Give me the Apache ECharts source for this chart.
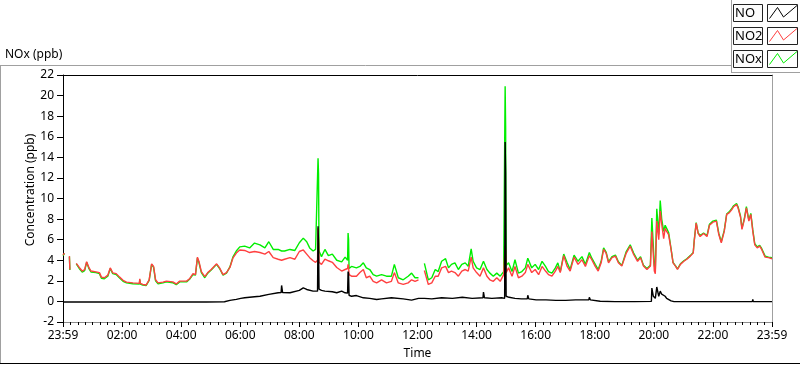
<!DOCTYPE html>
<html>
<head>
<meta charset="utf-8">
<script src="https://cdn.jsdelivr.net/npm/echarts@6/dist/echarts.min.js"></script>
<style>
html,body{margin:0;padding:0;background:#fff;}
#chart{width:800px;height:365px;}
</style>
</head>
<body>
<div id="chart"></div>
<script>
// Time in minutes from midnight (-1 = 23:59 of previous day, 1439 = 23:59)
const times = [
  -1, 2, 3, 12, 13, 14, 26, 32, 38, 43,
  47, 52, 56, 66, 73, 77, 83, 90, 95, 100,
  107, 114, 121, 128, 141, 154, 155, 156, 161, 168,
  174, 179, 183, 187, 192, 202, 209, 222, 229, 236,
  250, 256, 263, 268, 272, 275, 280, 287, 290, 293,
  300, 311, 317, 324, 331, 338, 344, 351, 358, 368,
  378, 388, 399, 409, 417, 426, 436, 443, 449, 460,
  470, 479, 487, 494, 500, 507, 512, 516, 517, 518,
  519, 524, 531, 538, 546, 555, 565, 572, 577, 578,
  579, 580, 585, 595, 602, 609, 615, 622, 629, 636,
  646, 656, 666, 672, 680, 690, 700, 707, 714, 721,
  726, 733, 741, 748, 755, 761, 768, 776, 782, 788,
  795, 802, 809, 816, 822, 828, 832, 839, 846, 853,
  860, 866, 873, 880, 887, 894, 896, 897, 898, 899,
  904, 911, 917, 924, 931, 938, 943, 951, 958, 965,
  972, 979, 985, 992, 999, 1004, 1009, 1016, 1023, 1029,
  1037, 1045, 1053, 1060, 1068, 1073, 1080, 1086, 1092, 1097,
  1102, 1107, 1114, 1121, 1127, 1134, 1143, 1151, 1158, 1166,
  1172, 1178, 1185, 1192, 1195, 1200, 1202, 1205, 1209, 1212,
  1215, 1219, 1222, 1225, 1229, 1234, 1238, 1243, 1247, 1253,
  1260, 1266, 1273, 1279, 1281, 1285, 1289, 1293, 1300, 1307,
  1312, 1319, 1326, 1331, 1336, 1342, 1347, 1352, 1357, 1361,
  1367, 1370, 1375, 1378, 1383, 1387, 1392, 1396, 1400, 1404,
  1409, 1414, 1418, 1425, 1432, 1439
];
const no2 = [
  4.5, 4.7, null, 4.4, 3.1, null, 3.7, 3.3, 2.95, 3.1,
  3.85, 3.25, 2.95, 2.87, 2.8, 2.36, 2.3, 2.55, 3.26, 2.78,
  2.7, 2.36, 2.05, 1.87, 1.8, 1.75, 2.2, 1.75, 1.65, 1.6,
  2.1, 3.65, 3.4, 2.1, 1.8, 1.87, 1.97, 1.9, 1.7, 1.97,
  1.97, 2.2, 2.7, 2.6, 4.3, 3.9, 2.9, 2.4, 2.3, 2.8,
  3.1, 3.65, 3.26, 2.6, 2.8, 3.3, 4.2, 4.7, 5.0, 4.95,
  4.75, 4.85, 4.75, 4.6, 4.85, 4.25, 4.1, 4.0, 4.1, 4.25,
  4.1, 4.85, 5.0, 4.6, 4.25, 3.95, 3.8, 4.0, 7.1, 6.0,
  3.8, 3.6, 4.1, 3.95, 3.8, 3.3, 2.95, 3.1, 3.2, 3.6,
  3.4, 2.6, 2.45, 2.45, 2.8, 3.1, 2.3, 2.45, 1.95, 1.8,
  2.1, 1.8, 1.95, 2.8, 1.8, 1.65, 1.8, 2.1, 1.95, 2.1,
  null, 3.0, 1.65, 1.8, 2.45, 2.45, 3.26, 3.4, 2.8, 2.95,
  2.8, 2.45, 2.95, 3.1, 2.95, 4.3, 3.26, 2.8, 2.45, 3.26,
  2.45, 2.1, 1.95, 2.3, 1.95, 2.6, 2.5, 5.4, 5.0, 2.8,
  3.26, 2.45, 3.4, 2.3, 2.45, 2.8, 3.6, 2.8, 3.1, 2.6,
  3.4, 2.95, 2.6, 2.45, 2.95, 3.4, 2.8, 4.45, 3.4, 2.95,
  4.3, 3.6, 4.05, 3.4, 4.45, 4.05, 3.4, 2.95, 3.75, 5.05,
  4.7, 3.75, 4.25, 4.4, 3.75, 3.43, 4.7, 5.37, 4.56, 3.9,
  4.25, 3.43, 3.1, 3.43, 6.8, 2.95, 2.7, 7.8, 6.0, 8.77,
  7.5, 6.1, 7.1, 6.8, 6.5, 5.05, 3.75, 3.43, 3.1, 3.6,
  3.9, 4.1, 4.4, 4.7, 5.85, 7.6, 6.6, 6.3, 6.6, 6.3,
  7.4, 7.7, 7.8, 6.5, 5.7, 6.8, 8.45, 8.6, 8.9, 9.2,
  9.4, 9.1, 8.2, 7.0, 8.0, 9.1, 7.8, 8.45, 6.8, 5.5,
  5.2, 5.37, 5.05, 4.3, 4.25, 4.15
];
const nox = [
  4.45, 4.65, null, 4.35, 3.05, null, 3.65, 3.2, 2.85, 3.0,
  3.8, 3.15, 2.85, 2.8, 2.7, 2.25, 2.2, 2.45, 3.2, 2.7,
  2.62, 2.28, 1.95, 1.8, 1.72, 1.68, 2.1, 1.68, 1.58, 1.55,
  2.05, 3.6, 3.3, 2.0, 1.72, 1.8, 1.9, 1.82, 1.62, 1.9,
  1.9, 2.15, 2.6, 2.55, 4.2, 3.8, 2.8, 2.3, 2.2, 2.75,
  3.05, 3.6, 3.2, 2.55, 2.75, 3.35, 4.3, 4.9, 5.3, 5.37,
  5.2, 5.67, 5.5, 5.2, 5.8, 5.05, 5.05, 4.9, 4.9, 5.05,
  4.95, 5.7, 6.15, 5.8, 5.2, 4.9, 5.05, 5.0, 13.9, 12.4,
  4.9, 4.35, 5.05, 4.45, 4.6, 4.0, 3.85, 4.3, 4.0, 6.65,
  6.0, 3.2, 3.4, 3.26, 3.4, 3.75, 3.26, 3.1, 2.6, 2.45,
  2.6, 2.45, 2.45, 3.6, 2.3, 2.1, 2.45, 2.75, 2.3, 2.3,
  null, 3.7, 2.1, 2.3, 3.1, 2.9, 3.9, 4.15, 3.26, 3.6,
  3.75, 3.1, 3.6, 3.75, 3.4, 5.1, 3.9, 3.26, 3.1, 3.9,
  3.1, 2.75, 2.45, 2.75, 2.45, 2.9, 3.0, 20.9, 17.0, 3.5,
  3.75, 2.9, 4.05, 2.75, 2.9, 3.26, 4.2, 3.26, 3.6, 3.1,
  3.9, 3.4, 2.9, 2.75, 3.26, 3.75, 2.9, 4.6, 3.75, 3.1,
  4.5, 3.9, 4.35, 3.6, 4.75, 4.2, 3.6, 3.1, 3.9, 5.2,
  4.8, 3.85, 4.35, 4.5, 3.85, 3.5, 4.85, 5.5, 4.7, 4.0,
  4.35, 3.5, 3.2, 3.5, 8.1, 3.5, 3.0, 9.0, 6.5, 9.8,
  8.0, 6.8, 7.4, 7.1, 6.7, 5.1, 3.8, 3.45, 3.15, 3.65,
  3.95, 4.15, 4.45, 4.75, 5.9, 7.65, 6.65, 6.4, 6.65, 6.4,
  7.5, 7.8, 7.9, 6.6, 5.8, 6.9, 8.5, 8.7, 9.0, 9.3,
  9.5, 9.2, 8.3, 7.1, 8.1, 9.2, 7.9, 8.55, 6.95, 5.6,
  5.3, 5.45, 5.15, 4.4, 4.3, 4.25
];
const noTimes = [
  -1, 2, 12, 26, 60, 120, 160, 200, 240, 290,
  327, 338, 351, 360, 368, 388, 399, 417, 436, 442,
  443, 445, 460, 479, 487, 494, 507, 516, 517, 518,
  519, 524, 531, 546, 555, 565, 572, 577, 578, 579,
  580, 585, 595, 609, 622, 636, 646, 666, 690, 707,
  721, 733, 748, 768, 790, 810, 830, 852, 853, 855,
  870, 890, 896, 897, 898, 899, 905, 917, 930, 942,
  943, 945, 960, 980, 1000, 1020, 1040, 1067, 1068, 1070,
  1090, 1120, 1160, 1194, 1195, 1198, 1200, 1202, 1205, 1209,
  1212, 1215, 1219, 1222, 1225, 1229, 1234, 1240, 1300, 1399,
  1400, 1401, 1439
];
const noVals = [
  -0.05, -0.05, -0.05, -0.05, -0.05, -0.05, -0.05, -0.05, -0.05, -0.05,
  -0.03, 0.1, 0.2, 0.3, 0.35, 0.45, 0.5, 0.68, 0.84, 0.85,
  1.55, 0.85, 0.84, 1.07, 1.32, 1.16, 1.0, 1.0, 7.3, 5.6,
  1.2, 1.07, 1.0, 0.94, 0.84, 1.0, 0.84, 0.8, 2.9, 2.7,
  0.6, 0.5, 0.57, 0.35, 0.3, 0.19, 0.25, 0.35, 0.25, 0.13,
  0.3, 0.3, 0.25, 0.35, 0.3, 0.4, 0.3, 0.35, 0.9, 0.35,
  0.3, 0.35, 0.3, 15.5, 12.5, 0.5, 0.4, 0.3, 0.25, 0.25,
  0.6, 0.25, 0.15, 0.15, 0.1, 0.1, 0.15, 0.15, 0.4, 0.15,
  0.02, -0.02, -0.02, 0.0, 1.3, 0.5, 0.6, 0.3, 1.4, 0.5,
  1.0, 0.7, 0.6, 0.5, 0.3, 0.45, 0.05, -0.02, -0.02, -0.02,
  0.2, -0.02, -0.02
];
const yTicks = { min: -2, max: 22, step: 2 };
const xRange = { min: -1, max: 1439, step: 120 };

function zip(xs, ys) {
  return xs.map((x, i) => [x, ys[i] === null ? '-' : ys[i]]);
}
function fmt(v) {
  if (v < 0 || v >= 1439) return '23:59';
  const h = Math.round(v / 60);
  return (h < 10 ? '0' : '') + h + ':00';
}

const FONT = 'Noto Sans';
const chart = echarts.init(document.getElementById('chart'), null, { renderer: 'canvas' });

const legendRows = [
  { name: 'NO', color: '#000000', y: 4 },
  { name: 'NO2', color: '#ff4040', y: 27 },
  { name: 'NOx', color: '#00ee00', y: 50 }
];
const graphics = [
  { type: 'text', left: 5, top: 49, style: { text: 'NOx (ppb)', font: '12px "Noto Sans"', fill: '#000' } },
  { type: 'text', x: 31, y: 190, rotation: Math.PI / 2, style: { text: 'Concentration (ppb)', font: '12px "Noto Sans"', fill: '#000', align: 'center', verticalAlign: 'middle' } },
  { type: 'line', shape: { x1: 0, y1: 65.5, x2: 731, y2: 65.5 }, style: { stroke: '#a0a0a0', lineWidth: 1 } },
  { type: 'line', shape: { x1: 0.5, y1: 65, x2: 0.5, y2: 363 }, style: { stroke: '#a0a0a0', lineWidth: 1 } },
  { type: 'line', shape: { x1: 0, y1: 363.5, x2: 800, y2: 363.5 }, style: { stroke: '#000', lineWidth: 1 } },
  { type: 'line', shape: { x1: 731.5, y1: 0, x2: 731.5, y2: 72 }, style: { stroke: '#a0a0a0', lineWidth: 1 } },
  { type: 'line', shape: { x1: 731, y1: 72.5, x2: 800, y2: 72.5 }, style: { stroke: '#a0a0a0', lineWidth: 1 } }
];
legendRows.forEach(r => {
  graphics.push({ type: 'rect', shape: { x: 733.5, y: r.y + 0.5, width: 29, height: 17 }, style: { fill: '#fcfcfc', stroke: '#222', lineWidth: 1 } });
  graphics.push({ type: 'text', x: 735, y: r.y + 9, style: { text: r.name, font: '13px "Noto Sans"', fill: '#000', verticalAlign: 'middle' } });
  graphics.push({ type: 'rect', shape: { x: 767.5, y: r.y + 0.5, width: 30, height: 17 }, style: { fill: '#fff', stroke: '#222', lineWidth: 1 } });
  graphics.push({ type: 'polyline', shape: { points: [[769.5, r.y + 14.5], [777.5, r.y + 3.5], [783.5, r.y + 13], [797, r.y + 1.5]] }, style: { stroke: r.color, lineWidth: 1, fill: null } });
});

const option = {
  animation: false,
  backgroundColor: '#ffffff',
  textStyle: { fontFamily: FONT },
  grid: { left: 63, right: 28, top: 75, bottom: 43, containLabel: false },
  xAxis: [
    {
      type: 'value', min: xRange.min, max: xRange.max, interval: xRange.step, position: 'bottom',
      axisLine: { show: true, onZero: false, lineStyle: { color: '#8c8c8c', width: 1 } },
      axisTick: { show: true, length: 5, lineStyle: { color: '#000' } },
      minorTick: { show: true, splitNumber: 8, length: 3, lineStyle: { color: '#000', width: 1 } },
      axisLabel: { show: true, formatter: fmt, margin: 8, color: '#000', fontSize: 12, fontFamily: FONT, showMinLabel: true, showMaxLabel: true },
      splitLine: { show: false },
      minorSplitLine: { show: false },
      name: 'Time', nameLocation: 'middle', nameGap: 26,
      nameTextStyle: { color: '#000', fontSize: 12, fontFamily: FONT }
    },
    {
      type: 'value', min: xRange.min, max: xRange.max, position: 'top',
      axisLine: { show: true, onZero: false, lineStyle: { color: '#000', width: 1 } },
      axisTick: { show: false }, axisLabel: { show: false }, splitLine: { show: false }
    }
  ],
  yAxis: [
    {
      type: 'value', min: yTicks.min, max: yTicks.max, interval: yTicks.step, position: 'left',
      axisLine: { show: true, onZero: false, lineStyle: { color: '#000', width: 1 } },
      axisTick: { show: true, length: 6, lineStyle: { color: '#000' } },
      axisLabel: { margin: 9, color: '#000', fontSize: 12, fontFamily: FONT },
      splitLine: { show: false }
    },
    {
      type: 'value', min: yTicks.min, max: yTicks.max, position: 'right',
      axisLine: { show: true, onZero: false, lineStyle: { color: '#a0a0a0', width: 1 } },
      axisTick: { show: false }, axisLabel: { show: false }, splitLine: { show: false }
    }
  ],
  series: [
    { name: 'NOx', type: 'line', xAxisIndex: 0, yAxisIndex: 0, data: zip(times, nox), showSymbol: false, symbol: 'none', lineStyle: { color: '#00ee00', width: 1.4 }, itemStyle: { color: '#00ee00' }, z: 2 },
    { name: 'NO2', type: 'line', xAxisIndex: 0, yAxisIndex: 0, data: zip(times, no2), showSymbol: false, symbol: 'none', lineStyle: { color: '#ff4040', width: 1.4 }, itemStyle: { color: '#ff4040' }, z: 3 },
    { name: 'NO', type: 'line', xAxisIndex: 0, yAxisIndex: 0, data: zip(noTimes, noVals), showSymbol: false, symbol: 'none', lineStyle: { color: '#000000', width: 1.4 }, itemStyle: { color: '#000' }, z: 4 }
  ],
  graphic: graphics
};
chart.setOption(option);
</script>
</body>
</html>
